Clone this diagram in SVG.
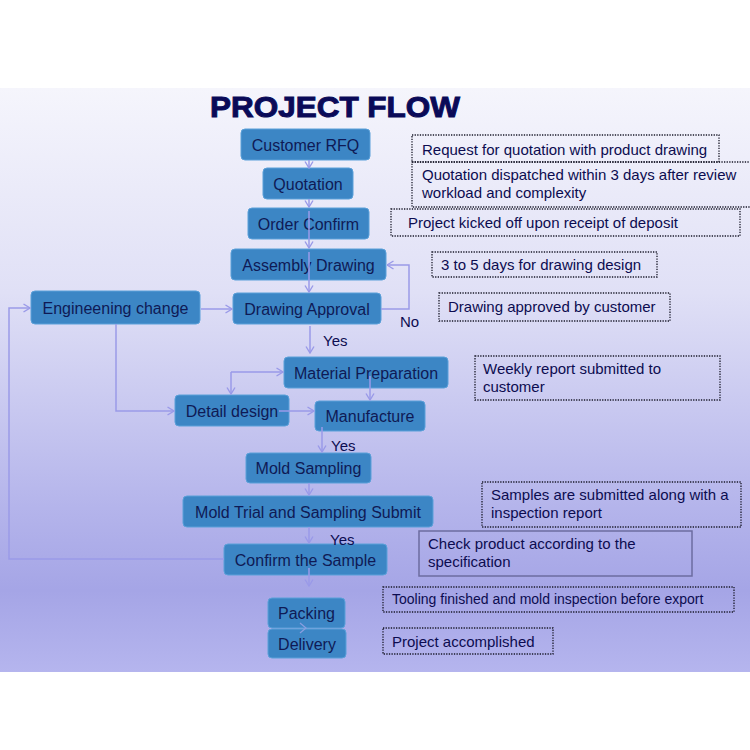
<svg xmlns="http://www.w3.org/2000/svg" width="750" height="750" viewBox="0 0 750 750">
<defs>
<linearGradient id="bg" x1="0" y1="0" x2="0" y2="1">
<stop offset="0" stop-color="#f5f5fc"/>
<stop offset="0.35" stop-color="#e0e0f6"/>
<stop offset="0.72" stop-color="#b4b4eb"/>
<stop offset="0.86" stop-color="#a5a5e6"/>
<stop offset="1" stop-color="#b5b5ee"/>
</linearGradient>
<marker id="ah" viewBox="0 0 8 10" refX="7.5" refY="5" markerWidth="8" markerHeight="10" markerUnits="userSpaceOnUse" orient="auto">
<path d="M1,1 L7.5,5 L1,9" fill="none" stroke="#9a9ae8" stroke-width="1.4"/>
</marker>
<style>
.box{fill:#3c86c5;stroke:#5aa0d9;stroke-width:1}
.bt{font-family:"Liberation Sans",Arial,sans-serif;font-size:16px;fill:#0f1a55;text-anchor:middle}
.note{fill:none;stroke:#1a1a2a;stroke-width:1.3;stroke-dasharray:1.3 1.3}
.nt{font-family:"Liberation Sans",Arial,sans-serif;font-size:15px;fill:#0c0c50}
.lbl{font-family:"Liberation Sans",Arial,sans-serif;font-size:15px;fill:#0c0c50}
.cn{fill:none;stroke:#9a9ae8;stroke-width:1.5;marker-end:url(#ah)}
</style>
</defs>
<rect x="0" y="0" width="750" height="750" fill="#ffffff"/>
<rect x="0" y="88" width="750" height="584" fill="url(#bg)"/>
<text x="210" y="117" font-family="'Liberation Sans',Arial,sans-serif" font-size="30" font-weight="bold" fill="#0a0a58" stroke="#0a0a58" stroke-width="1" textLength="250" lengthAdjust="spacingAndGlyphs">PROJECT FLOW</text>

<g id="customer-rfq"><rect class="box" x="241" y="129" width="129" height="31" rx="4"/><text class="bt" x="305.5" y="150.5">Customer RFQ</text></g>
<g id="quotation"><rect class="box" x="263" y="168" width="90" height="31" rx="4"/><text class="bt" x="308" y="189.5">Quotation</text></g>
<g id="order-confirm"><rect class="box" x="248" y="208" width="121" height="31" rx="4"/><text class="bt" x="308.5" y="229.5">Order Confirm</text></g>
<g id="assembly-drawing"><rect class="box" x="231" y="249" width="155" height="31" rx="4"/><text class="bt" x="308.5" y="270.5">Assembly Drawing</text></g>
<g id="drawing-approval"><rect class="box" x="233" y="293" width="148" height="31" rx="4"/><text class="bt" x="307" y="314.5">Drawing Approval</text></g>
<g id="engineening-change"><rect class="box" x="31" y="291" width="169" height="33" rx="4"/><text class="bt" x="115.5" y="314">Engineening change</text></g>
<g id="material-preparation"><rect class="box" x="284" y="357" width="164" height="31" rx="4"/><text class="bt" x="366" y="378.5">Material Preparation</text></g>
<g id="detail-design"><rect class="box" x="175" y="395" width="114" height="31" rx="4"/><text class="bt" x="232" y="416.5">Detail design</text></g>
<g id="manufacture"><rect class="box" x="315" y="401" width="110" height="30" rx="4"/><text class="bt" x="370" y="422">Manufacture</text></g>
<g id="mold-sampling"><rect class="box" x="246" y="453" width="125" height="30" rx="4"/><text class="bt" x="308.5" y="474">Mold Sampling</text></g>
<g id="mold-trial"><rect class="box" x="183" y="496" width="250" height="31" rx="4"/><text class="bt" x="308" y="517.5">Mold Trial and Sampling Submit</text></g>
<g id="confirm-sample"><rect class="box" x="224" y="544" width="163" height="31" rx="4"/><text class="bt" x="305.5" y="565.5">Confirm the Sample</text></g>
<g id="packing"><rect class="box" x="268" y="598" width="77" height="30" rx="4"/><text class="bt" x="306.5" y="619">Packing</text></g>
<g id="delivery"><rect class="box" x="268" y="629" width="78" height="29" rx="4"/><text class="bt" x="307" y="650">Delivery</text></g>

<g id="note-rfq"><rect class="note" x="412" y="135" width="307" height="27"/><text class="nt" x="422" y="155">Request for quotation with product drawing</text></g>
<g id="note-quotation"><rect class="note" x="412" y="162" width="340" height="45"/><text class="nt" x="422" y="180">Quotation dispatched within 3 days after review</text><text class="nt" x="422" y="198">workload and complexity</text></g>
<g id="note-order"><rect class="note" x="391" y="209" width="349" height="27"/><text class="nt" x="408" y="228">Project kicked off upon receipt of deposit</text></g>
<g id="note-assembly"><rect class="note" x="432" y="252" width="225" height="25"/><text class="nt" x="441" y="270">3 to 5 days for drawing design</text></g>
<g id="note-approval"><rect class="note" x="439" y="293" width="231" height="28"/><text class="nt" x="448" y="312">Drawing approved by customer</text></g>
<g id="note-weekly"><rect class="note" x="475" y="356" width="245" height="44"/><text class="nt" x="483" y="374">Weekly report submitted to</text><text class="nt" x="483" y="392">customer</text></g>
<g id="note-samples"><rect class="note" x="482" y="482" width="259" height="45"/><text class="nt" x="491" y="500">Samples are submitted along with a</text><text class="nt" x="491" y="518">inspection report</text></g>
<g id="note-check"><rect x="419" y="531" width="273" height="45" fill="none" stroke="#6c6ca0" stroke-width="1.5"/><text class="nt" x="428" y="549">Check product according to the</text><text class="nt" x="428" y="567">specification</text></g>
<g id="note-tooling"><rect class="note" x="383" y="587" width="351" height="25"/><text class="nt" x="392" y="604" style="font-size:14px">Tooling finished and mold inspection before export</text></g>
<g id="note-accomplished"><rect class="note" x="383" y="628" width="170" height="26"/><text class="nt" x="392" y="647">Project accomplished</text></g>

<g id="connectors">
<path class="cn" d="M309,160 V168"/>
<path class="cn" d="M309,199 V207"/>
<path class="cn" d="M309,211 V248"/>
<path class="cn" d="M309,252 V292"/>
<path class="cn" d="M201,309 H232"/>
<path class="cn" d="M381,309 H409 V265 H387"/>
<path class="cn" d="M310,326 V353"/>
<path class="cn" d="M116,324 V411 H174"/>
<path class="cn" d="M231,372 H283"/>
<path class="cn" d="M231,372 V394"/>
<path class="cn" d="M279,411 H314"/>
<path class="cn" d="M370,376 V400"/>
<path class="cn" d="M322,427 V452"/>
<path class="cn" d="M309,483 V495"/>
<path class="cn" d="M309,527 V543"/>
<path class="cn" d="M309,568 V586"/>
<path class="cn" d="M224,559 H9 V308 H30"/>
<polyline points="300,623 306,628 300,633" fill="none" stroke="#8a9ee0" stroke-width="1.2"/>
<text class="lbl" x="323" y="346">Yes</text>
<text class="lbl" x="400" y="327">No</text>
<text class="lbl" x="331" y="451">Yes</text>
<text class="lbl" x="330" y="545">Yes</text>
</g>
</svg>
